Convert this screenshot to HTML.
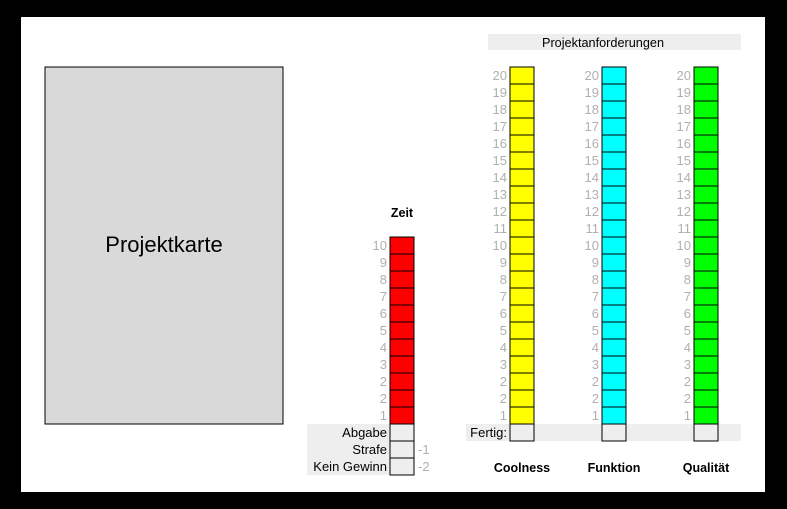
<!DOCTYPE html>
<html><head><meta charset="utf-8"><style>
html,body{margin:0;padding:0;background:#000}
svg{display:block;font-family:"Liberation Sans",Arial,sans-serif}
</style></head><body>
<svg width="787" height="509" viewBox="0 0 787 509">
<rect x="21" y="17" width="744" height="475" fill="#fff"/>
<rect x="45" y="67" width="238" height="357" fill="#d9d9d9" stroke="#000" stroke-width="1"/>
<text x="164" y="252" font-size="22" text-anchor="middle">Projektkarte</text>
<rect x="488" y="34" width="253" height="16" fill="#eeeeee"/>
<text x="603" y="47" font-size="12.7" text-anchor="middle">Projektanforderungen</text>
<text x="402" y="217" font-size="12.5" font-weight="bold" text-anchor="middle">Zeit</text>
<rect x="307" y="424" width="107" height="51" fill="#eeeeee"/>
<rect x="466" y="424" width="275" height="17" fill="#eeeeee"/>
<g id="cols"></g>
</svg>
<script>
const timeLabelsAll = ["10","9","8","7","6","5","4","3","2","2","1"];
const reqLabels = ["20","19","18","17","16","15","14","13","12","11","10","9","8","7","6","5","4","3","2","2","1"];
const reqCategories = ["Coolness","Funktion","Qualität"];
const reqColors = ["#ffff00","#00ffff","#00ff00"];
const extraLabels = ["Abgabe","Strafe","Kein Gewinn"];
const extraValues = ["","-1","-2"];

const NS="http://www.w3.org/2000/svg";
const g=document.getElementById('cols');
function el(tag,attrs,txt){const e=document.createElementNS(NS,tag);for(const k in attrs)e.setAttribute(k,attrs[k]);if(txt!==undefined)e.textContent=txt;g.appendChild(e);return e;}

const tTop=237,tBot=424,tH=(tBot-tTop)/timeLabelsAll.length;
timeLabelsAll.forEach((l,i)=>{
  const y=tTop+i*tH;
  const r=el('rect',{x:390,y:y,width:24,height:tH,fill:'#ff0000',stroke:'#000','stroke-width':1});
  
  
  const t=el('text',{x:387,y:y+tH/2+4.5,'font-size':13,fill:'#b0b0b0','text-anchor':'end'},l);
  
  
});
extraLabels.forEach((l,i)=>{
  const y=424+i*17;
  const r=el('rect',{x:390,y:y,width:24,height:17,fill:'#eeeeee',stroke:'#000','stroke-width':1});
  
  
  const t=el('text',{x:387,y:y+13,'font-size':13,fill:'#000','text-anchor':'end'},l);
  
  
  if(extraValues[i]){
    const v=el('text',{x:418,y:y+13,'font-size':13,fill:'#b0b0b0'},extraValues[i]);
    
    
  }
});

const cx=[510,602,694];
const rTop=67,rBot=424,rH=(rBot-rTop)/reqLabels.length;
reqCategories.forEach((c,ci)=>{
  reqLabels.forEach((l,i)=>{
    const y=rTop+i*rH;
    const r=el('rect',{x:cx[ci],y:y,width:24,height:rH,fill:reqColors[ci],stroke:'#000','stroke-width':1});
    
    
    const t=el('text',{x:cx[ci]-3,y:y+rH/2+4.5,'font-size':13,fill:'#b0b0b0','text-anchor':'end'},l);
    
    
  });
  const f=el('rect',{x:cx[ci],y:424,width:24,height:17,fill:'#eeeeee',stroke:'#000','stroke-width':1});
  
  
  const tt=el('text',{x:cx[ci]+12,y:472,'font-size':12.5,'font-weight':'bold','text-anchor':'middle'},c);
  
  
});
const fl=el('text',{x:507,y:437,'font-size':13,'text-anchor':'end'},'Fertig:');


</script>
</body></html>
